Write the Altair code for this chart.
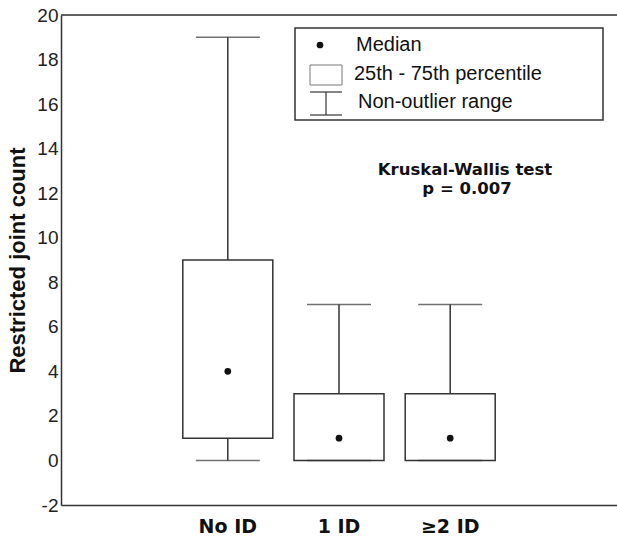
import altair as alt
import pandas as pd

groups = ["No ID", "1 ID", "≥2 ID"]
mins = [0, 0, 0]
q1s = [1, 0, 0]
medians = [4, 1, 1]
q3s = [9, 3, 3]
maxs = [19, 7, 7]
y_ticks = list(range(-2, 21, 2))

x_domain = ["_l"] + groups + ["_r"]

df = pd.DataFrame({"group": groups, "min": mins, "q1": q1s, "median": medians,
                   "q3": q3s, "max": maxs})

LINE = "#333333"
FONT = "Liberation Sans"

xenc = alt.X("group:N", scale=alt.Scale(domain=x_domain, paddingInner=0, paddingOuter=0),
             axis=alt.Axis(title=None, labelExpr="indexof(['_l','_r'], datum.label) >= 0 ? '' : datum.label",
                           labelFont="DejaVu Sans", labelFontSize=19, labelFontWeight="bold", labelColor="#111",
                           ticks=False, labelPadding=12, labelAngle=0,
                           domainColor=LINE, domainWidth=1.5, grid=False))
yscale = alt.Scale(domain=[-2, 20], nice=False, zero=False)
yaxis = alt.Axis(title="Restricted joint count", values=y_ticks, titleFont=FONT, titleFontSize=22,
                 titleFontWeight="bold", titleColor="#111", titlePadding=7,
                 labelExpr="'' + datum.value",
                 labelFont=FONT, labelFontSize=19, labelColor="#222", ticks=False,
                 domainColor=LINE, domainWidth=1.5, grid=False, labelPadding=3)

base = alt.Chart(df)
whisker = base.mark_rule(color=LINE, strokeWidth=1.5).encode(
    x=xenc, y=alt.Y("min:Q", scale=yscale, axis=yaxis), y2="max:Q")
box = base.mark_bar(size=90, fill="white", stroke=LINE, strokeWidth=1.5).encode(
    x=xenc, y=alt.Y("q1:Q", scale=yscale), y2="q3:Q")
cap_top = base.mark_tick(size=64, thickness=1.5, color=LINE, orient="horizontal").encode(
    x=xenc, y=alt.Y("max:Q", scale=yscale))
cap_bot = base.mark_tick(size=64, thickness=1.5, color=LINE, orient="horizontal").encode(
    x=xenc, y=alt.Y("min:Q", scale=yscale))
med = base.mark_point(filled=True, size=45, color="#111", opacity=1).encode(
    x=xenc, y=alt.Y("median:Q", scale=yscale))

one = alt.Chart(pd.DataFrame({"a": [0]}))
top_line = one.mark_rule(color=LINE, strokeWidth=1.5).encode(
    x=alt.value(0), x2=alt.value(556), y=alt.value(0))

leg_box = one.mark_rect(fill="white", stroke=LINE, strokeWidth=1.5).encode(
    x=alt.value(234), x2=alt.value(542), y=alt.value(13), y2=alt.value(105))
leg_dot = one.mark_point(filled=True, size=45, color="#111", opacity=1).encode(
    x=alt.value(259), y=alt.value(30))
leg_sq = one.mark_rect(fill="white", stroke="#777", strokeWidth=1).encode(
    x=alt.value(249), x2=alt.value(281), y=alt.value(50), y2=alt.value(70))
leg_v = one.mark_rule(color=LINE, strokeWidth=1.2).encode(
    x=alt.value(265), y=alt.value(77), y2=alt.value(100))
leg_c1 = one.mark_rule(color=LINE, strokeWidth=1.2).encode(
    x=alt.value(249), x2=alt.value(281), y=alt.value(77))
leg_c2 = one.mark_rule(color=LINE, strokeWidth=1.2).encode(
    x=alt.value(249), x2=alt.value(281), y=alt.value(100))

legend_labels = ["Median", "25th - 75th percentile", "Non-outlier range"]
leg_t1 = one.mark_text(align="left", baseline="middle", font=FONT, fontSize=20, color="#111").encode(
    x=alt.value(295), y=alt.value(30), text=alt.value(legend_labels[0]))
leg_t2 = one.mark_text(align="left", baseline="middle", font=FONT, fontSize=20, color="#111").encode(
    x=alt.value(293), y=alt.value(59), text=alt.value(legend_labels[1]))
leg_t3 = one.mark_text(align="left", baseline="middle", font=FONT, fontSize=20, color="#111").encode(
    x=alt.value(297), y=alt.value(87), text=alt.value(legend_labels[2]))

ann_lines = ["Kruskal-Wallis test", "p = 0.007"]
ann1 = one.mark_text(align="center", baseline="middle", font="DejaVu Sans", fontWeight="bold",
                     fontSize=16.5, color="#111").encode(
    x=alt.value(404), y=alt.value(155), text=alt.value(ann_lines[0]))
ann2 = one.mark_text(align="center", baseline="middle", font="DejaVu Sans", fontWeight="bold",
                     fontSize=16.5, color="#111").encode(
    x=alt.value(406), y=alt.value(174), text=alt.value(ann_lines[1]))

chart = alt.layer(whisker, box, cap_top, cap_bot, med, top_line,
                  leg_box, leg_dot, leg_sq, leg_v, leg_c1, leg_c2, leg_t1, leg_t2, leg_t3,
                  ann1, ann2).properties(
    width=556, height=490,
    autosize=alt.AutoSizeParams(type="none"),
    padding={"left": 61, "top": 15, "right": 0, "bottom": 34},
).configure_view(stroke=None).configure(background="white")

chart.save("out.html", embed_options={"renderer": "svg", "actions": False})
